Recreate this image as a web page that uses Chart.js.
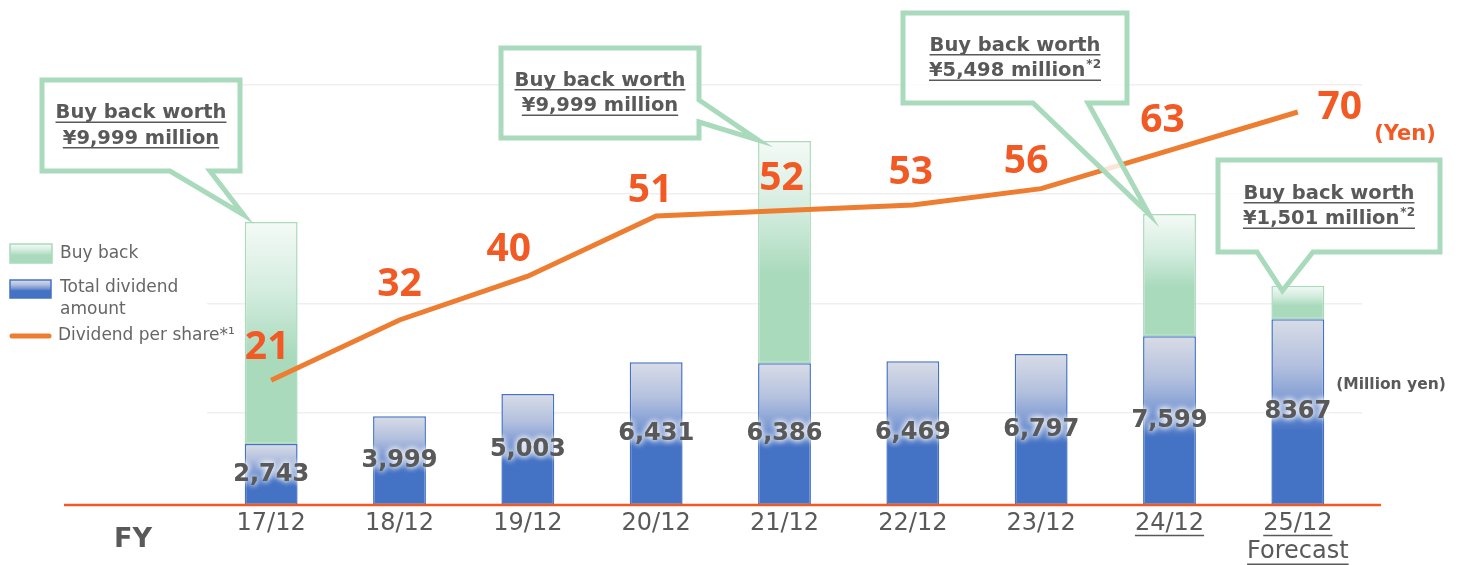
<!DOCTYPE html>
<html>
<head>
<meta charset="utf-8">
<script src="https://cdn.jsdelivr.net/npm/chart.js@4.4.1/dist/chart.umd.min.js"></script>
<style>
  html, body { margin: 0; padding: 0; background: #ffffff; }
  canvas { display: block; }
</style>
</head>
<body>
<canvas id="c" width="1467" height="565"></canvas>
<script>
// ---------------- data ----------------
const categories = ['17/12', '18/12', '19/12', '20/12', '21/12', '22/12', '23/12', '24/12', '25/12'];
const categorySecondLine = ['', '', '', '', '', '', '', '', 'Forecast'];
const totalDividend = [2743, 3999, 5003, 6431, 6386, 6469, 6797, 7599, 8367];
const totalDividendLabels = ['2,743', '3,999', '5,003', '6,431', '6,386', '6,469', '6,797', '7,599', '8367'];
const buyBack = [9999, null, null, null, 9999, null, null, 5498, 1501];
const buyBackNoteMarks = ['', '', '', '', '', '', '', '*2', '*2'];
const dividendPerShare = [21, 32, 40, 51, 52, 53, 56, 63, 70];
const gridValues = [15, 35, 55, 75];

// ---------------- styles ----------------
const GRAY = '#595959';
const ORANGE_TXT = '#F15A24';
const LINE_ORANGE = '#ED7D31';
const BLUE = '#4472C4';
const GREEN = '#A9DABC';
const FONT = '"DejaVu Sans", Verdana, sans-serif';

function blueGradient(ctx, top, bottom) {
  const g = ctx.createLinearGradient(0, top, 0, bottom);
  g.addColorStop(0, '#d8dce6');
  g.addColorStop(0.25, '#b3c0de');
  g.addColorStop(0.45, '#7d9ad3');
  g.addColorStop(0.6, BLUE);
  g.addColorStop(1, BLUE);
  return g;
}
function greenGradient(ctx, top, bottom) {
  const g = ctx.createLinearGradient(0, top, 0, bottom);
  g.addColorStop(0, '#f4faf6');
  g.addColorStop(0.3, '#d5ede0');
  g.addColorStop(0.6, GREEN);
  g.addColorStop(1, GREEN);
  return g;
}

function barFill(kind) {
  return function (context) {
    const chart = context.chart;
    if (!chart.chartArea || context.dataIndex === undefined) return kind === 'blue' ? BLUE : GREEN;
    const y = chart.scales.y;
    const i = context.dataIndex;
    const base = kind === 'blue' ? 0 : totalDividend[i];
    const val = kind === 'blue' ? totalDividend[i] : (buyBack[i] || 0);
    const top = y.getPixelForValue(base + val);
    const bottom = y.getPixelForValue(base);
    if (!(bottom > top)) return kind === 'blue' ? BLUE : GREEN;
    return kind === 'blue' ? blueGradient(chart.ctx, top, bottom) : greenGradient(chart.ctx, top, bottom);
  };
}

// draw centered text with optional superscript segment and underline
function drawUnderlinedText(ctx, main, sup, cx, cy, size, color, underline) {
  const mainFont = 'bold ' + size + 'px ' + FONT;
  const supFont = 'bold ' + Math.round(size * 0.62) + 'px ' + FONT;
  ctx.font = mainFont;
  const w1 = ctx.measureText(main).width;
  ctx.font = supFont;
  const w2 = sup ? ctx.measureText(sup).width + 1 : 0;
  const total = w1 + w2;
  const x0 = cx - total / 2;
  ctx.fillStyle = color;
  ctx.textAlign = 'left';
  ctx.textBaseline = 'middle';
  ctx.font = mainFont;
  ctx.fillText(main, x0, cy);
  if (sup) {
    ctx.font = supFont;
    ctx.fillText(sup, x0 + w1 + 1, cy - size * 0.33);
  }
  if (underline) {
    ctx.strokeStyle = color;
    ctx.lineWidth = 1.5;
    ctx.beginPath();
    ctx.moveTo(x0, cy + size * 0.48);
    ctx.lineTo(x0 + total, cy + size * 0.48);
    ctx.stroke();
  }
}

const decorPlugin = {
  id: 'decor',
  afterDatasetsDraw(chart, args, opts) {
    const ctx = chart.ctx;
    const area = chart.chartArea;
    const divMeta = chart.getDatasetMeta(0);
    const bbMeta = chart.getDatasetMeta(1);
    const lineMeta = chart.getDatasetMeta(2);
    ctx.save();

    // orange baseline
    ctx.strokeStyle = ORANGE_TXT;
    ctx.lineWidth = 2.5;
    ctx.beginPath();
    ctx.moveTo(opts.baseLineFrom, area.bottom);
    ctx.lineTo(opts.baseLineTo, area.bottom);
    ctx.stroke();

    // bar value labels (centered, glow)
    ctx.font = 'bold 24px ' + FONT;
    ctx.textAlign = 'center';
    ctx.textBaseline = 'middle';
    divMeta.data.forEach((el, i) => {
      const cy = (el.y + el.base) / 2;
      ctx.save();
      ctx.shadowColor = 'rgba(255,255,255,1)';
      ctx.shadowBlur = 6;
      ctx.fillStyle = GRAY;
      ctx.fillText(totalDividendLabels[i], el.x, cy);
      ctx.fillText(totalDividendLabels[i], el.x, cy);
      ctx.restore();
    });

    // line value labels
    ctx.font = 'bold 39px "Noto Sans", ' + FONT;
    ctx.fillStyle = ORANGE_TXT;
    lineMeta.data.forEach((el, i) => {
      const off = opts.lineLabelOffsets[i];
      ctx.fillText(String(dividendPerShare[i]), el.x + off[0], el.y + off[1]);
    });

    // callouts
    opts.callouts.forEach(c => {
      const el = bbMeta.data[c.index];
      if (!el) return;
      const tipX = el.x - el.width / 2 + c.tip[0];
      const tipY = el.y + c.tip[1];
      const [x0, y0, x1, y1] = c.box;
      ctx.beginPath();
      if (c.tail[0] === 'bottom') {
        ctx.moveTo(x0, y0);
        ctx.lineTo(x1, y0);
        ctx.lineTo(x1, y1);
        ctx.lineTo(c.tail[2], y1);
        ctx.lineTo(tipX, tipY);
        ctx.lineTo(c.tail[1], y1);
        ctx.lineTo(x0, y1);
      } else {
        ctx.moveTo(x0, y0);
        ctx.lineTo(x1, y0);
        ctx.lineTo(x1, c.tail[1]);
        ctx.lineTo(tipX, tipY);
        ctx.lineTo(x1, c.tail[2]);
        ctx.lineTo(x1, y1);
        ctx.lineTo(x0, y1);
      }
      ctx.closePath();
      ctx.fillStyle = 'rgba(255,255,255,0.8)';
      ctx.fill();
      ctx.lineWidth = 5;
      ctx.lineJoin = 'miter';
      ctx.strokeStyle = GREEN;
      ctx.stroke();
      const cx = (x0 + x1) / 2;
      const cy = (y0 + y1) / 2;
      drawUnderlinedText(ctx, 'Buy back worth', '', cx, cy - 12.5, 19.5, GRAY, true);
      const amount = '¥' + buyBack[c.index].toLocaleString('en-US') + ' million';
      drawUnderlinedText(ctx, amount, buyBackNoteMarks[c.index], cx, cy + 13, 19.5, GRAY, true);
    });

    ctx.restore();
  },
  afterDraw(chart, args, opts) {
    const ctx = chart.ctx;
    const xs = chart.scales.x;
    ctx.save();

    // underline of tick labels
    const lineH = 24 * 1.2;
    const firstCenter = xs.top + 4 + lineH / 2;
    ctx.font = '24px ' + FONT;
    ctx.strokeStyle = GRAY;
    ctx.lineWidth = 1.5;
    opts.underlinedTicks.forEach(i => {
      const x = xs.getPixelForTick(i);
      const lines = [categories[i]];
      if (categorySecondLine[i]) lines.push(categorySecondLine[i]);
      lines.forEach((t, k) => {
        const w = ctx.measureText(t).width;
        const y = firstCenter + k * lineH + 12;
        ctx.beginPath();
        ctx.moveTo(x - w / 2, y);
        ctx.lineTo(x + w / 2, y);
        ctx.stroke();
      });
    });

    // FY
    ctx.fillStyle = GRAY;
    ctx.textAlign = 'center';
    ctx.textBaseline = 'middle';
    ctx.font = 'bold 27px ' + FONT;
    ctx.fillText('FY', 133, 540);

    // unit labels
    ctx.fillStyle = ORANGE_TXT;
    ctx.font = 'bold 21px ' + FONT;
    ctx.fillText('(Yen)', 1405, 135);
    ctx.fillStyle = GRAY;
    ctx.font = 'bold 15.5px ' + FONT;
    ctx.fillText('(Million yen)', 1391, 385);

    // legend
    const lg = opts.legend;
    ctx.textAlign = 'left';
    ctx.font = '17px ' + FONT;
    ctx.fillStyle = greenGradient(ctx, 244, 263);
    ctx.fillRect(10, 244, 42, 19);
    ctx.strokeStyle = GREEN; ctx.lineWidth = 1.5;
    ctx.strokeRect(10, 244, 42, 19);
    ctx.fillStyle = blueGradient(ctx, 280, 298);
    ctx.fillRect(10, 280, 41, 18);
    ctx.strokeStyle = BLUE;
    ctx.strokeRect(10, 280, 41, 18);
    ctx.strokeStyle = LINE_ORANGE;
    ctx.lineWidth = 5;
    ctx.lineCap = 'round';
    ctx.beginPath(); ctx.moveTo(12, 336); ctx.lineTo(49, 336); ctx.stroke();
    ctx.fillStyle = '#666666';
    ctx.fillText(lg[0], 60, 254);
    ctx.fillText(lg[1], 60, 288);
    ctx.fillText(lg[2], 60, 310);
    ctx.fillText(lg[3], 58, 336);

    ctx.restore();
  }
};

new Chart(document.getElementById('c'), {
  type: 'bar',
  data: {
    labels: categories.map((c, i) => categorySecondLine[i] ? [c, categorySecondLine[i]] : c),
    datasets: [
      {
        label: 'Total dividend amount',
        data: totalDividend,
        yAxisID: 'y',
        order: 1,
        backgroundColor: barFill('blue'),
        borderColor: BLUE,
        borderWidth: 1.5,
        borderSkipped: false,
        categoryPercentage: 1,
        barPercentage: 0.412
      },
      {
        label: 'Buy back',
        data: buyBack,
        yAxisID: 'y',
        order: 2,
        backgroundColor: barFill('green'),
        borderColor: GREEN,
        borderWidth: 1.5,
        borderSkipped: false,
        categoryPercentage: 1,
        barPercentage: 0.412
      },
      {
        type: 'line',
        label: 'Dividend per share',
        data: dividendPerShare,
        yAxisID: 'y1',
        order: 0,
        borderColor: LINE_ORANGE,
        borderWidth: 5,
        pointRadius: 0,
        tension: 0,
        fill: false
      }
    ]
  },
  options: {
    responsive: false,
    animation: false,
    layout: { padding: { left: 207, right: 105, top: 83, bottom: 0 } },
    plugins: {
      legend: { display: false },
      tooltip: { enabled: false },
      decor: {
        baseLineFrom: 64,
        baseLineTo: 1381,
        underlinedTicks: [7, 8],
        lineLabelOffsets: [[-4, -32], [0, -35], [-19, -26], [-6, -25], [-3, -32], [-2, -32], [-15, -27], [-7, -29], [42, -4]],
        legend: ['Buy back', 'Total dividend', 'amount', 'Dividend per share*\u00B9'],
        callouts: [
          { index: 0, box: [42, 80, 240, 171], tail: ['bottom', 170, 210], tip: [-1, -7] },
          { index: 4, box: [501, 48, 699, 138], tail: ['right', 100, 122], tip: [0, -1] },
          { index: 7, box: [903, 13, 1127, 103], tail: ['bottom', 1033, 1088], tip: [6, 0] },
          { index: 8, box: [1218, 160, 1440, 252], tail: ['bottom', 1257, 1313], tip: [11, 5] }
        ]
      }
    },
    scales: {
      x: {
        stacked: true,
        grid: { display: false, drawTicks: false },
        border: { display: false },
        ticks: {
          font: { family: FONT, size: 24 },
          color: GRAY,
          padding: 4,
          maxRotation: 0,
          autoSkip: false
        },
        afterFit: s => { s.height = 60; }
      },
      y: {
        stacked: true,
        display: false,
        min: 0,
        max: 19000
      },
      y1: {
        display: true,
        position: 'right',
        stacked: false,
        min: -1.8,
        max: 75.3,
        grid: { color: '#efefef', lineWidth: 1.5, drawTicks: false },
        border: { display: false },
        ticks: { display: false },
        afterBuildTicks: s => { s.ticks = gridValues.map(v => ({ value: v })); },
        afterFit: s => { s.width = 0; }
      }
    }
  },
  plugins: [decorPlugin]
});
</script>
</body>
</html>
